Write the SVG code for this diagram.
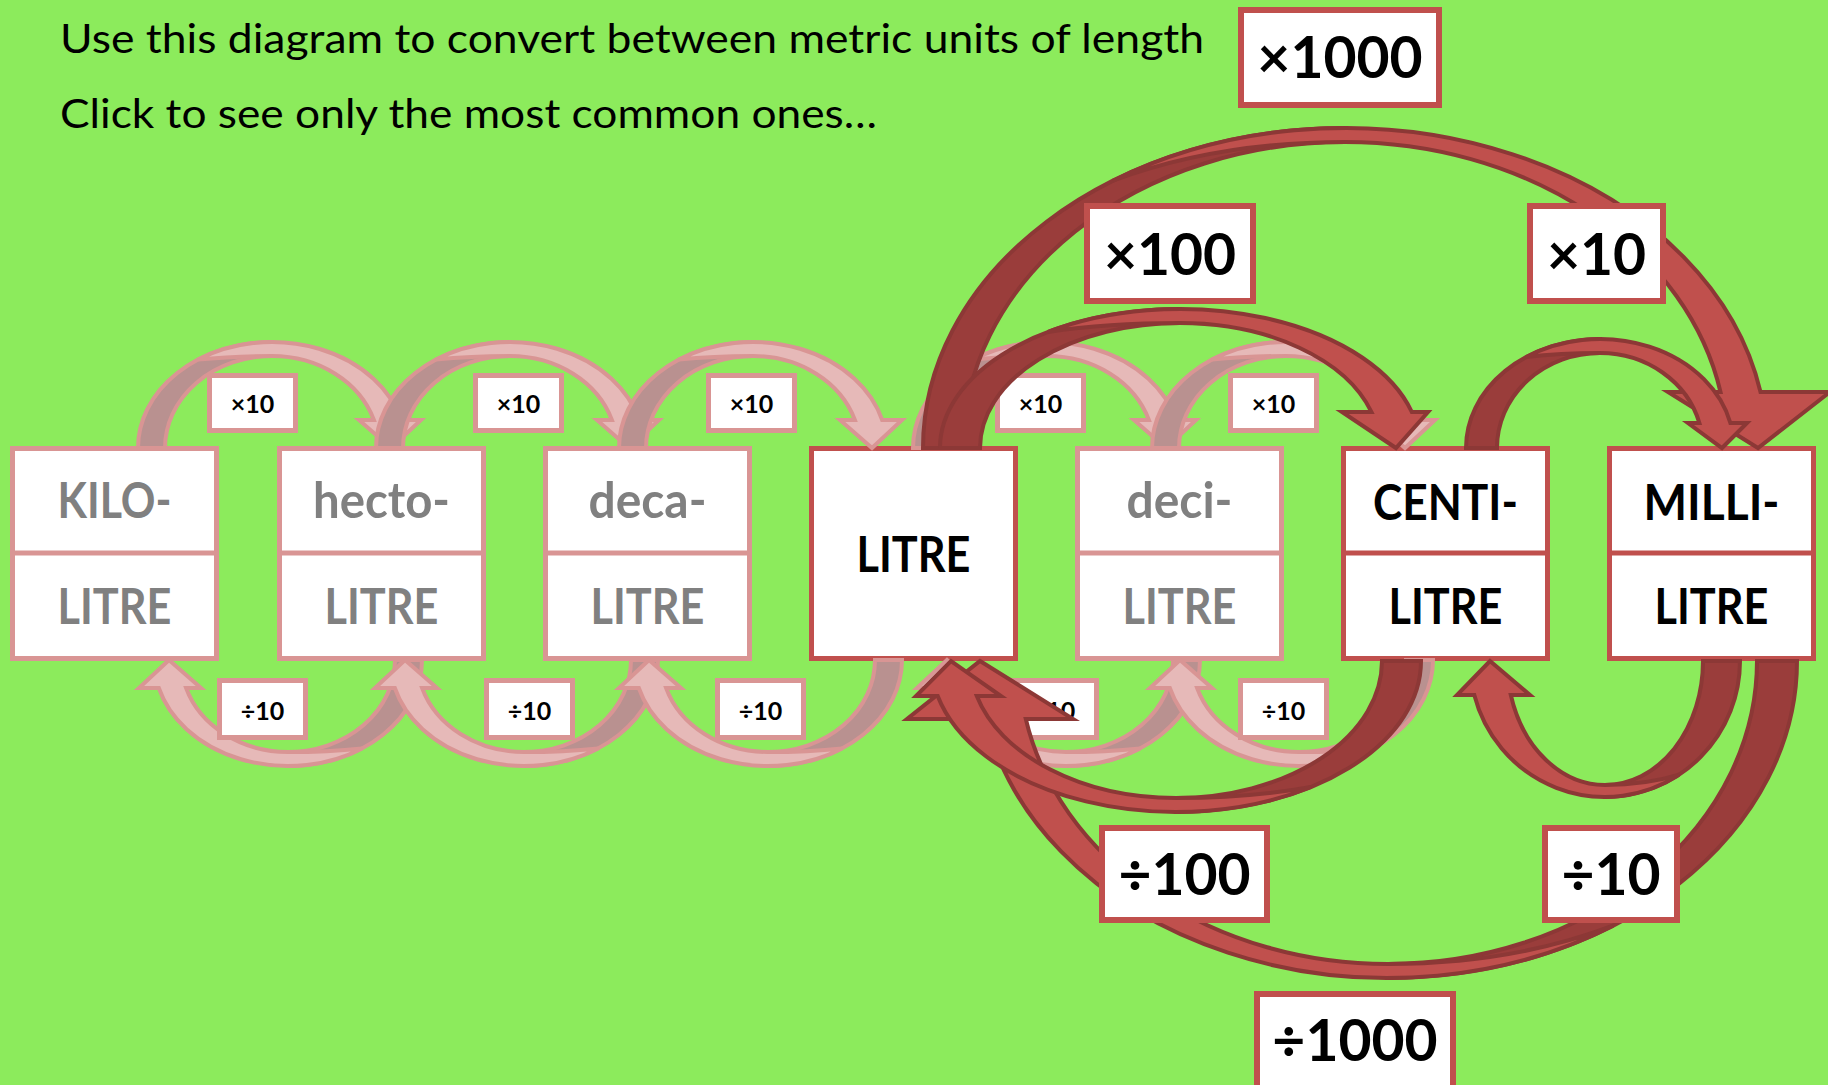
<svg xmlns="http://www.w3.org/2000/svg" xmlns:xlink="http://www.w3.org/1999/xlink" width="1828" height="1085" viewBox="0 0 1828 1085">
<style>
.fbox{fill:#fff;stroke:#D99594;stroke-width:5}
.sbox{fill:#fff;stroke:#C0504D;stroke-width:5}
.fdiv{stroke:#D99594;stroke-width:5}
.sdiv{stroke:#C0504D;stroke-width:5}
.ft{font-family:Lato,"Liberation Sans",sans-serif;font-weight:700;font-size:49px;fill:#808080;text-anchor:middle}
.st{font-family:Lato,"Liberation Sans",sans-serif;font-weight:700;font-size:49px;fill:#000;text-anchor:middle}
.slab{fill:#fff;stroke:#D99594;stroke-width:5}
.slt{font-family:Lato,"Liberation Sans",sans-serif;font-weight:700;font-size:25px;fill:#000;text-anchor:middle}
.blab{fill:#fff;stroke:#C0504D;stroke-width:6}
.blt{font-family:Lato,"Liberation Sans",sans-serif;font-weight:700;font-size:57px;fill:#000;text-anchor:middle}
.title{font-family:Lato,"Liberation Sans",sans-serif;font-size:40px;fill:#000}
.fb{fill:#B99190;stroke:#D99594;stroke-width:4}
.ff{fill:#E6B9B8;stroke:#D99594;stroke-width:4}
.sb{fill:#9A3D3B;stroke:#8C3836;stroke-width:4}
.sf{fill:#C0504D;stroke:#8C3836;stroke-width:4}
</style>
<defs>
<g id="fa">
<path class="fb" d="M0,0 A134,106 0 0 1 134,-106 L134,-92 A107,92 0 0 0 27,0 Z"/>
<path class="ff" d="M60,-88.4 A134,106 0 0 1 263.2,-28 L283,-28 L253,0 L221,-28 L235.9,-28 A107,92 0 0 0 134,-92 Q94,-92 60,-88.4 Z"/>
</g>
</defs>
<rect width="1828" height="1085" fill="#8CEB5C"/>
<g id="title">
<text class="title" x="60" y="53" textLength="1144" lengthAdjust="spacingAndGlyphs">Use this diagram to convert between metric units of length</text>
<text class="title" x="60" y="128" textLength="817" lengthAdjust="spacingAndGlyphs">Click to see only the most common ones…</text>
</g>
<g id="kilo">
<rect class="fbox" x="12.5" y="448.5" width="204" height="210"/>
<line class="fdiv" x1="12" y1="553" x2="217" y2="553"/>
<text class="ft" x="114.5" y="518" textLength="114" lengthAdjust="spacingAndGlyphs">KILO-</text>
<text class="ft" x="114.5" y="624" textLength="114" lengthAdjust="spacingAndGlyphs">LITRE</text>
</g>
<g id="hecto">
<rect class="fbox" x="279.5" y="448.5" width="204" height="210"/>
<line class="fdiv" x1="279" y1="553" x2="484" y2="553"/>
<text class="ft" x="381.5" y="518" textLength="137" lengthAdjust="spacingAndGlyphs">hecto-</text>
<text class="ft" x="381.5" y="624" textLength="114" lengthAdjust="spacingAndGlyphs">LITRE</text>
</g>
<g id="deca">
<rect class="fbox" x="545.5" y="448.5" width="204" height="210"/>
<line class="fdiv" x1="545" y1="553" x2="750" y2="553"/>
<text class="ft" x="647.5" y="518" textLength="118" lengthAdjust="spacingAndGlyphs">deca-</text>
<text class="ft" x="647.5" y="624" textLength="114" lengthAdjust="spacingAndGlyphs">LITRE</text>
</g>
<g id="litre">
<rect class="sbox" x="811.5" y="448.5" width="204" height="210"/>
<text class="st" x="913.5" y="572" textLength="114" lengthAdjust="spacingAndGlyphs">LITRE</text>
</g>
<g id="deci">
<rect class="fbox" x="1077.5" y="448.5" width="204" height="210"/>
<line class="fdiv" x1="1077" y1="553" x2="1282" y2="553"/>
<text class="ft" x="1179.5" y="518" textLength="106" lengthAdjust="spacingAndGlyphs">deci-</text>
<text class="ft" x="1179.5" y="624" textLength="114" lengthAdjust="spacingAndGlyphs">LITRE</text>
</g>
<g id="centi">
<rect class="sbox" x="1343.5" y="448.5" width="204" height="210"/>
<line class="sdiv" x1="1343" y1="553" x2="1548" y2="553"/>
<text class="st" x="1445.5" y="520" textLength="145" lengthAdjust="spacingAndGlyphs">CENTI-</text>
<text class="st" x="1445.5" y="624" textLength="114" lengthAdjust="spacingAndGlyphs">LITRE</text>
</g>
<g id="milli">
<rect class="sbox" x="1609.5" y="448.5" width="204" height="210"/>
<line class="sdiv" x1="1609" y1="553" x2="1814" y2="553"/>
<text class="st" x="1711.5" y="520" textLength="136" lengthAdjust="spacingAndGlyphs">MILLI-</text>
<text class="st" x="1711.5" y="624" textLength="114" lengthAdjust="spacingAndGlyphs">LITRE</text>
</g>
<g id="connectors">
<g id="faded-arrows">
<use xlink:href="#fa" href="#fa" transform="translate(138,448)"/>
<use xlink:href="#fa" href="#fa" transform="translate(376,448)"/>
<use xlink:href="#fa" href="#fa" transform="translate(619,448)"/>
<use xlink:href="#fa" href="#fa" transform="translate(913,448)"/>
<use xlink:href="#fa" href="#fa" transform="translate(1152,448)"/>
<use xlink:href="#fa" href="#fa" transform="translate(422,660) scale(-1,-1)"/>
<use xlink:href="#fa" href="#fa" transform="translate(658,660) scale(-1,-1)"/>
<use xlink:href="#fa" href="#fa" transform="translate(902,660) scale(-1,-1)"/>
<use xlink:href="#fa" href="#fa" transform="translate(1200,660) scale(-1,-1)"/>
<use xlink:href="#fa" href="#fa" transform="translate(1433,660) scale(-1,-1)"/>
</g>
</g>
<g id="small-labels">
<g id="m1"><rect class="slab" x="209.5" y="375.5" width="86" height="55"/><text class="slt" x="252.5" y="413">×10</text></g>
<g id="m2"><rect class="slab" x="475.5" y="375.5" width="86" height="55"/><text class="slt" x="518.5" y="413">×10</text></g>
<g id="m3"><rect class="slab" x="708.5" y="375.5" width="86" height="55"/><text class="slt" x="751.5" y="413">×10</text></g>
<g id="m4"><rect class="slab" x="997.5" y="375.5" width="86" height="55"/><text class="slt" x="1040.5" y="413">×10</text></g>
<g id="m5"><rect class="slab" x="1230.5" y="375.5" width="86" height="55"/><text class="slt" x="1273.5" y="413">×10</text></g>
<g id="d1"><rect class="slab" x="219.5" y="680.5" width="86" height="57"/><text class="slt" x="262.5" y="720">÷10</text></g>
<g id="d2"><rect class="slab" x="486.5" y="680.5" width="86" height="57"/><text class="slt" x="529.5" y="720">÷10</text></g>
<g id="d3"><rect class="slab" x="717.5" y="680.5" width="86" height="57"/><text class="slt" x="760.5" y="720">÷10</text></g>
<g id="d4"><rect class="slab" x="1010.5" y="680.5" width="86" height="57"/><text class="slt" x="1053.5" y="720">÷10</text></g>
<g id="d5"><rect class="slab" x="1240.5" y="680.5" width="86" height="57"/><text class="slt" x="1283.5" y="720">÷10</text></g>
</g>
<g id="strong-connectors">
<g id="a-x1000" transform="translate(923,448)">
<path class="sb" d="M0,0 A422,320 0 0 1 422,-320 L422,-306 A382,306 0 0 0 40,0 Z"/>
<path class="sf" d="M190,-267.3 A422,320 0 0 1 837.5,-56 L907,-56 L835,0 L745,-56 L797.5,-56 A382,306 0 0 0 422,-306 Q294,-306 190,-267.3 Z"/>
</g>
<g id="a-x100" transform="translate(940,448)">
<path class="sb" d="M0,0 A240,139 0 0 1 240,-139 L240,-125 A200,125 0 0 0 40,0 Z"/>
<path class="sf" d="M108,-116.1 A240,139 0 0 1 471.8,-36 L488,-36 L456,0 L402,-36 L431.5,-36 A200,125 0 0 0 240,-125 Q167,-125 108,-116.1 Z"/>
</g>
<g id="a-x10" transform="translate(1466,448)">
<path class="sb" d="M0,0 A134,109 0 0 1 134,-109 L134,-95 A103,95 0 0 0 31,0 Z"/>
<path class="sf" d="M60,-90.9 A134,109 0 0 1 264.4,-25 L281,-25 L256,0 L222,-25 L233.4,-25 A103,95 0 0 0 134,-95 Q94,-95 60,-90.9 Z"/>
</g>
<g id="a-d1000" transform="translate(1797,661) scale(-1,-1)">
<path class="sb" d="M0,0 A409,317 0 0 1 409,-317 L409,-303 A369,303 0 0 0 40,0 Z"/>
<path class="sf" d="M184,-264.7 A409,317 0 0 1 811.1,-58 L890,-58 L817,0 L724,-58 L771.2,-58 A369,303 0 0 0 409,-303 Q285,-303 184,-264.7 Z"/>
</g>
<g id="a-d100" transform="translate(1421,661) scale(-1,-1)">
<path class="sb" d="M0,0 A245,151 0 0 1 245,-151 L245,-137 A206,137 0 0 0 39,0 Z"/>
<path class="sf" d="M110,-126 A245,151 0 0 1 483.3,-35 L505,-35 L470,0 L420,-35 L444.2,-35 A206,137 0 0 0 245,-137 Q171,-137 110,-126 Z"/>
</g>
<g id="a-d10" transform="translate(1740,661) scale(-1,-1)">
<path class="sb" d="M0,0 A135,136 0 0 1 135,-136 L135,-124 A98,124 0 0 0 37,0 Z"/>
<path class="sf" d="M61,-113.7 A135,136 0 0 1 265.7,-34 L283,-34 L250,0 L210,-34 L229.2,-34 A98,124 0 0 0 135,-124 Q94,-124 61,-113.7 Z"/>
</g>
</g>
<g id="big-labels">
<g id="l-x1000"><rect class="blab" x="1241" y="10" width="198" height="95"/><text class="blt" x="1340" y="78">×1000</text></g>
<g id="l-x100"><rect class="blab" x="1087" y="206" width="166" height="95"/><text class="blt" x="1170" y="275">×100</text></g>
<g id="l-x10"><rect class="blab" x="1530" y="206" width="133" height="95"/><text class="blt" x="1596.5" y="275">×10</text></g>
<g id="l-d100"><rect class="blab" x="1102" y="828" width="165" height="92"/><text class="blt" x="1184.5" y="895">÷100</text></g>
<g id="l-d10"><rect class="blab" x="1545" y="828" width="132" height="92"/><text class="blt" x="1611" y="895">÷10</text></g>
<g id="l-d1000"><rect class="blab" x="1257" y="994" width="196" height="100"/><text class="blt" x="1355" y="1061">÷1000</text></g>
</g>
</svg>
